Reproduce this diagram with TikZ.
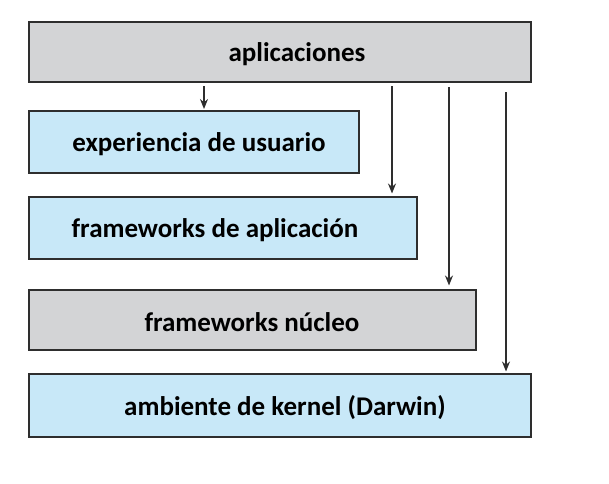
\documentclass[tikz,border=0pt]{standalone}
\usepackage{fontspec}
\setmainfont{Carlito}
\usetikzlibrary{arrows.meta}
\definecolor{boxgray}{HTML}{D3D4D6}
\definecolor{boxblue}{HTML}{C8E8F8}
\definecolor{edge}{HTML}{2E2E2E}
\begin{document}
\begin{tikzpicture}[x=1pt,y=-1pt,
  layer/.style={draw=edge,line width=2pt,anchor=north west,inner sep=0pt,outer sep=0pt},
  lbl/.style={font=\fontsize{27}{32}\selectfont\bfseries,text=black,inner sep=0pt},
  arr/.style={draw=edge,line width=1.5pt,-{Stealth[length=10pt,width=8pt]}}]
\useasboundingbox (0,0) rectangle (609,483);
\node[layer,fill=boxgray,minimum width=502pt,minimum height=60pt] (app) at (29,22) {};
\node[layer,fill=boxblue,minimum width=330pt,minimum height=62pt] (exp) at (29,111) {};
\node[layer,fill=boxblue,minimum width=388pt,minimum height=62pt] (fda) at (29,196.5) {};
\node[layer,fill=boxgray,minimum width=447pt,minimum height=60pt] (fnu) at (29,289.5) {};
\node[layer,fill=boxblue,minimum width=502pt,minimum height=63pt] (ker) at (29,373.5) {};
\node[lbl] (tapp) at (297,54) {aplicaciones};
\node[lbl] (texp) at (199,144) {experiencia de usuario};
\node[lbl] (tfda) at (215,230) {frameworks de aplicación};
\node[lbl] (tfnu) at (252,322) {frameworks núcleo};
\node[lbl] (tker) at (285,408) {ambiente de kernel (Darwin)};
\coordinate (c1) at (204,0);
\coordinate (c2) at (392,0);
\coordinate (c3) at (449,0);
\coordinate (c4) at (506,0);
\draw[arr] ([yshift=-4pt]app.south -| c1) -- ([yshift=2pt]exp.north -| c1);
\draw[arr] ([yshift=-4pt]app.south -| c2) -- ([yshift=3pt]fda.north -| c2);
\draw[arr] ([yshift=-5pt]app.south -| c3) -- ([yshift=4pt]fnu.north -| c3);
\draw[arr] ([yshift=-10pt]app.south -| c4) -- ([yshift=2pt]ker.north -| c4);
\end{tikzpicture}
\end{document}
